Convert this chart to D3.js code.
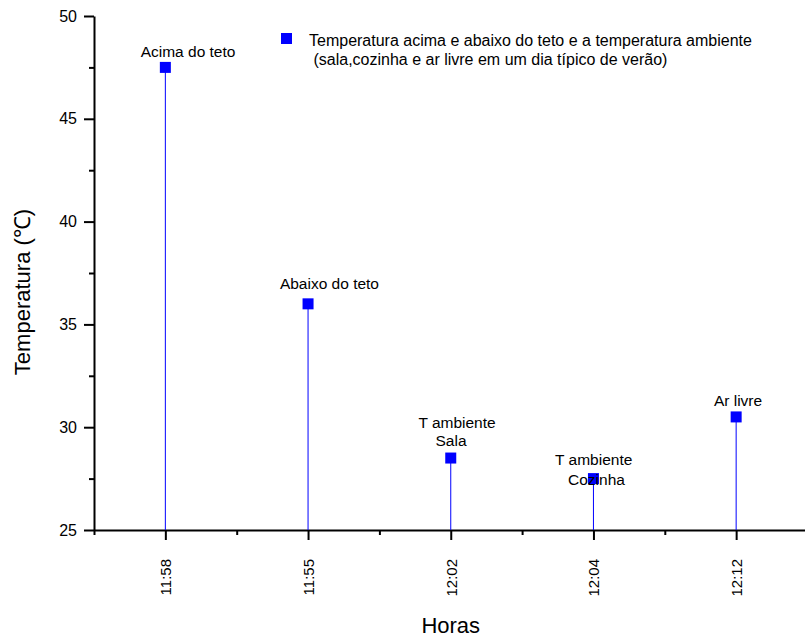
<!DOCTYPE html>
<html>
<head>
<meta charset="utf-8">
<script src="https://cdn.jsdelivr.net/npm/d3@7"></script>
<style>
  body { margin: 0; background: #ffffff; }
  text { font-family: 'Liberation Sans', Arial, sans-serif; fill: #000; }
</style>
</head>
<body>
<div id="chart"></div>
<script>
// chart data
const hours = ['11:58', '11:55', '12:02', '12:04', '12:12'];
const temps = [47.5, 36, 28.5, 27.5, 30.5];
const yTicks = [25, 30, 35, 40, 45, 50];
const legendLines = [
  'Temperatura acima e abaixo do teto e a temperatura ambiente',
  ' (sala,cozinha e ar livre em um dia típico de verão)'
];
// text labels placed in data units (category index, temperature)
const labels = [
  { text: 'Acima do teto', at: [1.159, 48.0] },
  { text: 'Abaixo do teto', at: [2.150, 36.71] },
  { text: 'T ambiente', at: [3.044, 29.96] },
  { text: 'Sala', at: [3.002, 29.09] },
  { text: 'T ambiente', at: [4.002, 28.16] },
  { text: 'Cozinha', at: [4.021, 27.19] },
  { text: 'Ar livre', at: [5.013, 31.03] }
];

const width = 805, height = 641;
const blue = '#0000ff';

const svg = d3.select('#chart')
  .append('svg')
  .attr('width', width)
  .attr('height', height);

const x = d3.scaleLinear().domain([0.5, 5.5]).range([94, 807.5]);
const y = d3.scaleLinear().domain([25, 50]).range([530, 16]);

// y axis
const yAxis = svg.append('g')
  .attr('transform', `translate(${x(0.5)},0)`)
  .call(d3.axisLeft(y).tickValues(yTicks).tickSize(10).tickSizeOuter(0).tickPadding(7));
yAxis.selectAll('text').style('font-size', '16px');

svg.append('g')
  .attr('transform', `translate(${x(0.5)},0)`)
  .call(d3.axisLeft(y).tickValues(d3.range(27.5, 50, 5)).tickSize(5).tickSizeOuter(0).tickFormat(''))
  .select('.domain').remove();

// x axis
const xAxis = svg.append('g')
  .attr('transform', `translate(0,${y(25)})`)
  .call(d3.axisBottom(x).tickValues(d3.range(1, 6)).tickSize(10).tickSizeOuter(0)
    .tickFormat(i => hours[i - 1]));
xAxis.selectAll('text')
  .attr('transform', 'rotate(-90)')
  .attr('x', -29)
  .attr('y', 0)
  .attr('dy', '0.35em')
  .attr('text-anchor', 'end')
  .style('font-size', '15px');

svg.append('g')
  .attr('transform', `translate(0,${y(25)})`)
  .call(d3.axisBottom(x).tickValues(d3.range(0.5, 6, 1)).tickSize(5).tickSizeOuter(0).tickFormat(''))
  .select('.domain').remove();

svg.selectAll('.domain, .tick line')
  .attr('stroke', '#000')
  .attr('stroke-width', 2);

// axis titles
svg.append('text')
  .attr('x', (x.range()[0] + x.range()[1]) / 2)
  .attr('y', 633)
  .attr('text-anchor', 'middle')
  .style('font-size', '22px')
  .text('Horas');

svg.append('text')
  .attr('transform', 'translate(30,292) rotate(-90)')
  .attr('text-anchor', 'middle')
  .style('font-size', '22px')
  .text('Temperatura (℃)');

// drop lines
svg.append('g')
  .selectAll('line')
  .data(temps)
  .join('line')
  .attr('x1', (d, i) => x(i + 1))
  .attr('x2', (d, i) => x(i + 1))
  .attr('y1', d => y(d))
  .attr('y2', y(25))
  .attr('stroke', blue)
  .attr('stroke-width', 1);

// markers
const size = 11;
svg.append('g')
  .selectAll('rect')
  .data(temps)
  .join('rect')
  .attr('x', (d, i) => x(i + 1) - size / 2)
  .attr('y', d => y(d) - size / 2)
  .attr('width', size)
  .attr('height', size)
  .attr('fill', blue);

// point labels
svg.append('g')
  .selectAll('text')
  .data(labels)
  .join('text')
  .attr('x', d => x(d.at[0]))
  .attr('y', d => y(d.at[1]))
  .attr('text-anchor', 'middle')
  .style('font-size', '15.5px')
  .text(d => d.text);

// legend
const legend = svg.append('g').attr('transform', 'translate(281,33)');
legend.append('rect')
  .attr('width', size)
  .attr('height', size)
  .attr('fill', blue);
legend.selectAll('text')
  .data(legendLines)
  .join('text')
  .attr('x', 28)
  .attr('y', (d, i) => 13 + i * 18.5)
  .attr('xml:space', 'preserve')
  .style('white-space', 'pre')
  .style('font-size', '16px')
  .text(d => d);
</script>
</body>
</html>
